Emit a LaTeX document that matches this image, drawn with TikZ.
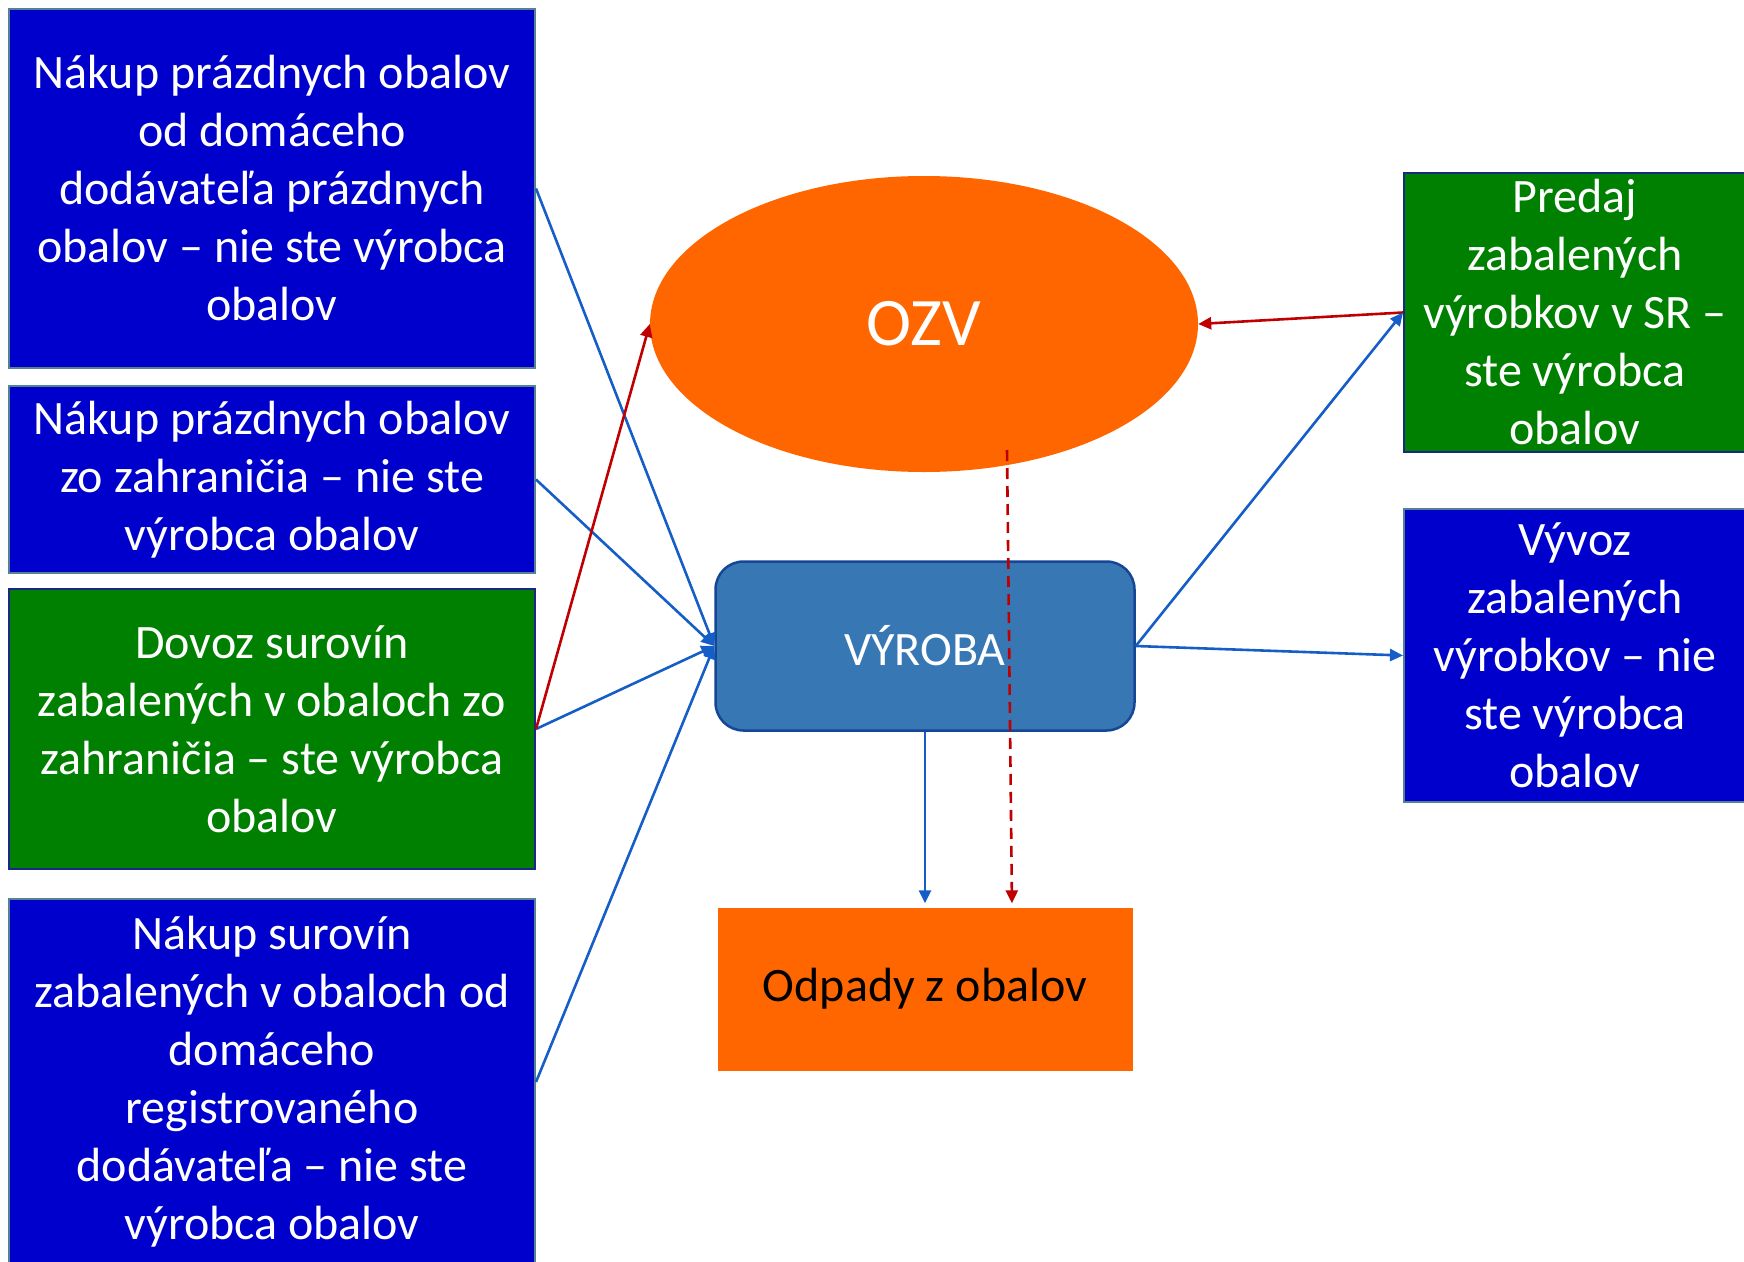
\documentclass[tikz,border=0pt]{standalone}
\usepackage{fontspec}
\setmainfont{Carlito}
\usetikzlibrary{positioning, shapes.geometric, arrows.meta}

\definecolor{boxblue}{RGB}{0,0,204}
\definecolor{boxgreen}{RGB}{0,128,0}
\definecolor{edgeteal}{RGB}{84,130,146}
\definecolor{edgenavy}{RGB}{25,40,130}
\definecolor{ozvorange}{RGB}{255,102,0}
\definecolor{prodblue}{RGB}{55,119,180}
\definecolor{prodedge}{RGB}{22,70,150}
\definecolor{flowblue}{RGB}{21,94,200}
\definecolor{flowred}{RGB}{192,0,0}

\begin{document}
\begin{tikzpicture}[x=1pt, y=-1pt,
    every node/.style={font=\fontsize{48}{58}\selectfont, align=center, inner sep=0pt},
    bluebox/.style={draw=edgeteal, line width=2pt, fill=boxblue, text=white, minimum width=526pt},
    greenbox/.style={draw=edgenavy, line width=2pt, fill=boxgreen, text=white, minimum width=526pt},
    flow/.style={draw=flowblue, line width=2.6pt, -{Triangle[length=13pt, width=12pt]}},
    money/.style={draw=flowred, line width=2.6pt, -{Triangle[length=13pt, width=12pt]}}]
    \useasboundingbox (0, 0) rectangle (1744, 1261);

    \node [bluebox, minimum height=359pt] (domprazdne) at (272, 188.5) {Nákup prázdnych obalov\\od domáceho\\dodávateľa prázdnych\\obalov – nie ste výrobca\\obalov};
    \node [bluebox, minimum height=187pt] (zahrprazdne) at (272, 479.5) {Nákup prázdnych obalov\\zo zahraničia – nie ste\\výrobca obalov};
    \node [greenbox, minimum height=280pt] (dovoz) at (272, 729) {Dovoz surovín\\zabalených v obaloch zo\\zahraničia – ste výrobca\\obalov};
    \node [bluebox, minimum height=366pt] (domsuroviny) at (272, 1082) {Nákup surovín\\zabalených v obaloch od\\domáceho\\registrovaného\\dodávateľa – nie ste\\výrobca obalov};

    \node [ellipse, fill=ozvorange, text=white, minimum width=548pt, minimum height=296pt, font=\fontsize{68}{80}\selectfont] (ozv) at (924, 324) {OZV};
    \node [rectangle, rounded corners=28pt, draw=prodedge, line width=2.5pt, fill=prodblue, text=white, minimum width=419pt, minimum height=169pt] (vyroba) at (925, 646) {VÝROBA};
    \node [fill=ozvorange, minimum width=415pt, minimum height=163pt] (odpady) at (925, 989) {Odpady z obalov};

    \node [greenbox, minimum width=342pt, minimum height=279pt] (predaj) at (1575, 312.5) {Predaj\\zabalených\\výrobkov v SR –\\ste výrobca\\obalov};
    \node [bluebox, minimum width=342pt, minimum height=293pt] (vyvoz) at (1575, 655.5) {Vývoz\\zabalených\\výrobkov – nie\\ste výrobca\\obalov};

    \coordinate (ozvdash) at (1007, 450);

    \draw [flow] (domprazdne.east) -- (vyroba.west);
    \draw [flow] (zahrprazdne.east) -- (vyroba.west);
    \draw [flow] (dovoz.east) -- (vyroba.west);
    \draw [flow] (domsuroviny.east) -- (vyroba.west);
    \draw [money] (dovoz.east) -- (ozv.west);
    \draw [money] (predaj.west) -- (ozv.east);
    \draw [flow] (vyroba.east) -- (predaj.west);
    \draw [flow] (vyroba.east) -- (vyvoz.west);
    \draw [flow, shorten >=4pt] (vyroba.south) -- (odpady.north);
    \draw [money, dash pattern=on 11pt off 7pt, shorten >=4pt] (ozvdash) -- ([xshift=87pt]odpady.north);
\end{tikzpicture}
\end{document}
